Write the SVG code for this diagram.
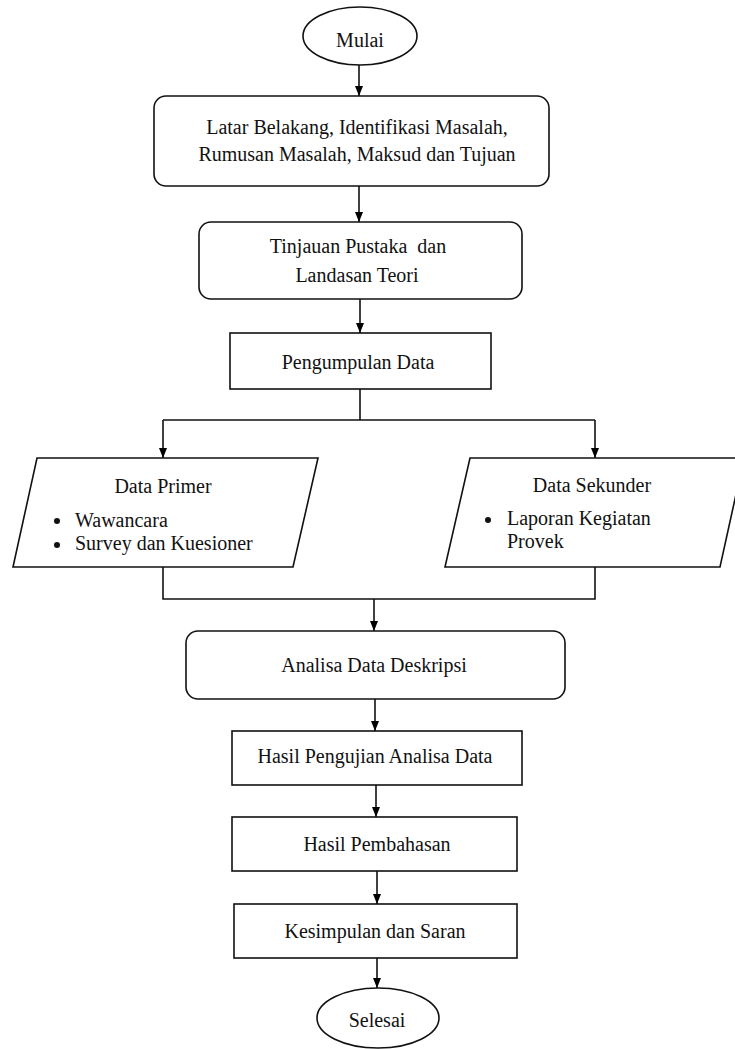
<svg xmlns="http://www.w3.org/2000/svg" width="735" height="1049" viewBox="0 0 735 1049">
<defs>
<marker id="arr" markerUnits="userSpaceOnUse" markerWidth="10" markerHeight="10" viewBox="0 0 10 10" refX="10" refY="5" orient="auto">
<path d="M0,1 L10,5 L0,9 Z" fill="#000"/>
</marker>
<style>
.shape{fill:#fff;stroke:#111;stroke-width:1.6}
.con{fill:none;stroke:#111;stroke-width:1.6}
text{font-family:"Liberation Serif","Times New Roman",serif;font-size:20px;fill:#111}
.c{text-anchor:middle}
</style>
</defs>
<rect width="735" height="1049" fill="#fff"/>
<g id="connectors">
<path class="con" d="M359,65 V96" marker-end="url(#arr)"/>
<path class="con" d="M359,186 V222" marker-end="url(#arr)"/>
<path class="con" d="M360,299 V333" marker-end="url(#arr)"/>
<path class="con" d="M360,389 V420"/>
<path class="con" d="M163,420 H595"/>
<path class="con" d="M163,420 V458" marker-end="url(#arr)"/>
<path class="con" d="M595,420 V458" marker-end="url(#arr)"/>
<path class="con" d="M163,567 V599 H595 V567"/>
<path class="con" d="M374,599 V631" marker-end="url(#arr)"/>
<path class="con" d="M375,699 V731" marker-end="url(#arr)"/>
<path class="con" d="M376,785 V817" marker-end="url(#arr)"/>
<path class="con" d="M377,871 V904" marker-end="url(#arr)"/>
<path class="con" d="M377,958 V988" marker-end="url(#arr)"/>
</g>
<g id="mulai">
<ellipse class="shape" cx="360" cy="36" rx="57" ry="29"/>
<text class="c" x="360" y="47">Mulai</text>
</g>
<g id="latar">
<rect class="shape" x="154" y="96" width="395" height="90" rx="12"/>
<text class="c" x="357" y="134">Latar Belakang, Identifikasi Masalah,</text>
<text class="c" x="357" y="161">Rumusan Masalah, Maksud dan Tujuan</text>
</g>
<g id="tinjauan">
<rect class="shape" x="199" y="222" width="323" height="77" rx="12"/>
<text class="c" x="358" y="253" xml:space="preserve">Tinjauan Pustaka  dan</text>
<text class="c" x="357" y="282">Landasan Teori</text>
</g>
<g id="pengumpulan">
<rect class="shape" x="230" y="333" width="261" height="56"/>
<text class="c" x="358" y="369">Pengumpulan Data</text>
</g>
<g id="primer">
<polygon class="shape" points="37,458 318,458 293,567 13,567"/>
<text class="c" x="163" y="493">Data Primer</text>
<circle cx="57" cy="521" r="3" fill="#111"/>
<text x="75" y="527">Wawancara</text>
<circle cx="57" cy="545" r="3" fill="#111"/>
<text x="75" y="550">Survey dan Kuesioner</text>
</g>
<g id="sekunder">
<polygon class="shape" points="470,458 744,458 720,567 445,567"/>
<text class="c" x="592" y="492">Data Sekunder</text>
<circle cx="488" cy="520" r="3" fill="#111"/>
<text x="507" y="525">Laporan Kegiatan</text>
<text x="507" y="548">Provek</text>
</g>
<g id="analisa">
<rect class="shape" x="186" y="631" width="379" height="68" rx="12"/>
<text class="c" x="374" y="672">Analisa Data Deskripsi</text>
</g>
<g id="pengujian">
<rect class="shape" x="232" y="731" width="290" height="54"/>
<text class="c" x="375" y="763">Hasil Pengujian Analisa Data</text>
</g>
<g id="pembahasan">
<rect class="shape" x="232" y="817" width="285" height="54"/>
<text class="c" x="377" y="851">Hasil Pembahasan</text>
</g>
<g id="kesimpulan">
<rect class="shape" x="234" y="904" width="283" height="54"/>
<text class="c" x="375" y="938">Kesimpulan dan Saran</text>
</g>
<g id="selesai">
<ellipse class="shape" cx="378" cy="1018" rx="61" ry="30"/>
<text class="c" x="377" y="1027">Selesai</text>
</g>
</svg>
